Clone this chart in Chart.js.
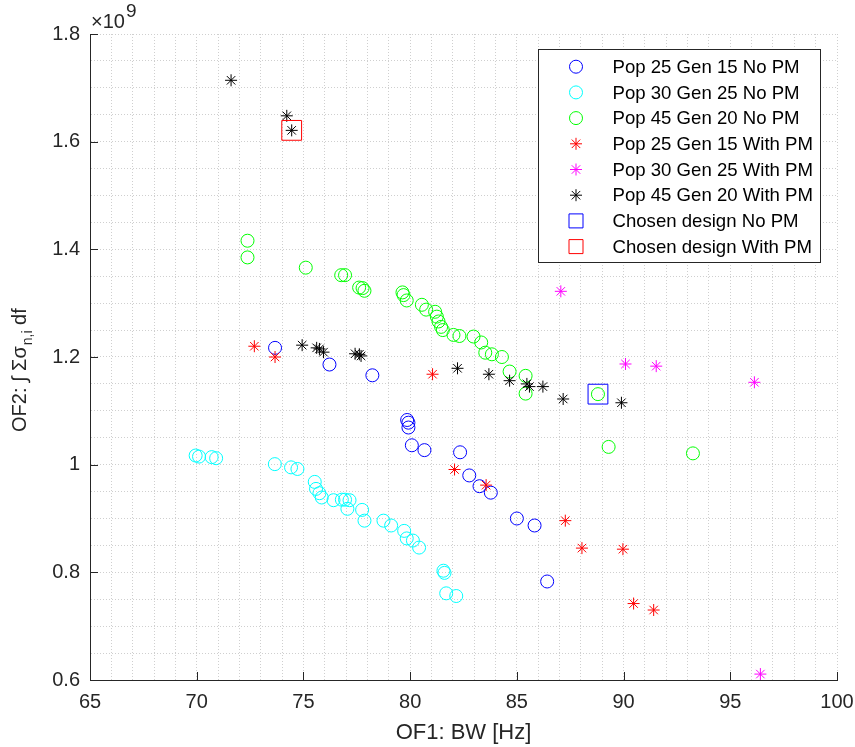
<!DOCTYPE html>
<html>
<head>
<meta charset="utf-8">
<title>OF1 vs OF2 Pareto fronts</title>
<style>
  html, body { margin: 0; padding: 0; background: #ffffff; }
  #wrap { position: relative; width: 855px; height: 747px; }
  canvas { display: block; }
</style>
<script src="https://cdn.jsdelivr.net/npm/chart.js@4.4.1/dist/chart.umd.min.js"></script>
</head>
<body>
<div id="wrap"><canvas id="chart" width="855" height="747"></canvas></div>
<script>
// OF1 = bandwidth [Hz], OF2 = integrated summed noise (values in units of 1e9)

const of1_P25G15_noPM = [73.67, 76.22, 78.23, 79.86, 79.92, 79.92, 80.08, 80.67, 82.34, 82.77, 83.25, 83.78, 85.00, 85.83, 86.42];
const of2_P25G15_noPM = [1.217, 1.186, 1.166, 1.083, 1.078, 1.069, 1.036, 1.027, 1.023, 0.980, 0.960, 0.948, 0.900, 0.887, 0.783];

const of1_P30G25_noPM = [69.95, 70.11, 70.70, 70.91, 73.66, 74.42, 74.72, 75.53, 75.59, 75.75, 75.86, 76.41, 76.80, 76.95, 77.16, 77.06, 77.75, 77.86, 78.75, 79.11, 79.72, 79.84, 80.13, 80.42, 81.56, 81.61, 81.69, 82.16];
const of2_P30G25_noPM = [1.017, 1.015, 1.014, 1.012, 1.001, 0.995, 0.992, 0.968, 0.955, 0.947, 0.939, 0.934, 0.935, 0.935, 0.934, 0.918, 0.916, 0.896, 0.896, 0.887, 0.877, 0.863, 0.859, 0.846, 0.803, 0.799, 0.761, 0.756];

const of1_P45G20_noPM = [72.38, 72.38, 75.11, 76.77, 76.95, 77.61, 77.77, 77.86, 79.64, 79.69, 79.84, 80.55, 80.75, 81.17, 81.25, 81.33, 81.45, 81.53, 82.03, 82.31, 82.97, 83.33, 83.52, 83.83, 84.30, 84.66, 85.41, 85.41, 88.80, 89.30, 93.25];
const of2_P45G20_noPM = [1.416, 1.385, 1.366, 1.352, 1.352, 1.329, 1.328, 1.323, 1.320, 1.315, 1.305, 1.297, 1.288, 1.284, 1.275, 1.266, 1.256, 1.250, 1.241, 1.239, 1.238, 1.227, 1.208, 1.205, 1.200, 1.173, 1.165, 1.132, 1.131, 1.033, 1.021];

const of1_P25G15_PM = [72.70, 73.67, 81.05, 82.08, 83.56, 87.27, 88.05, 89.97, 90.47, 91.41];
const of2_P25G15_PM = [1.220, 1.200, 1.168, 0.991, 0.962, 0.896, 0.845, 0.843, 0.742, 0.730];

const of1_P30G25_PM = [87.06, 90.09, 91.53, 96.13, 96.41];
const of2_P30G25_PM = [1.322, 1.187, 1.183, 1.153, 0.611];

const of1_P45G20_PM = [71.61, 74.22, 74.45, 74.94, 75.62, 75.75, 75.94, 77.42, 77.62, 77.70, 82.22, 83.69, 84.66, 85.47, 85.59, 86.22, 87.17, 89.90];
const of2_P45G20_PM = [1.714, 1.648, 1.621, 1.222, 1.217, 1.215, 1.209, 1.206, 1.205, 1.202, 1.179, 1.168, 1.156, 1.150, 1.145, 1.145, 1.122, 1.115];

const of1_chosen_noPM = [88.80];
const of2_chosen_noPM = [1.131];
const of1_chosen_PM = [74.45];
const of2_chosen_PM = [1.621];

const seriesLabels = [
  'Pop 25 Gen 15 No PM',
  'Pop 30 Gen 25 No PM',
  'Pop 45 Gen 20 No PM',
  'Pop 25 Gen 15 With PM',
  'Pop 30 Gen 25 With PM',
  'Pop 45 Gen 20 With PM',
  'Chosen design No PM',
  'Chosen design With PM'
];

const xTickValues = [65, 70, 75, 80, 85, 90, 95, 100];
const xTickLabels = ['65', '70', '75', '80', '85', '90', '95', '100'];
const yTickValues = [0.6, 0.8, 1.0, 1.2, 1.4, 1.6, 1.8];
const yTickLabels = ['0.6', '0.8', '1', '1.2', '1.4', '1.6', '1.8'];

const AXIS = '#262626';
const FONT = '"Liberation Sans", Arial, Helvetica, sans-serif';

const toPoints = (xs, ys) => xs.map((v, i) => ({ x: v, y: ys[i] }));

const styles = [
  { color: '#0000ff', style: 'circle', r: 6.5 },
  { color: '#00ffff', style: 'circle', r: 6.5 },
  { color: '#00ff00', style: 'circle', r: 6.5 },
  { color: '#ff0000', style: 'star', r: 6 },
  { color: '#ff00ff', style: 'star', r: 6 },
  { color: '#000000', style: 'star', r: 6 },
  { color: '#0000ff', style: 'rect', r: 14 },
  { color: '#ff0000', style: 'rect', r: 14 }
];

const seriesData = [
  toPoints(of1_P25G15_noPM, of2_P25G15_noPM),
  toPoints(of1_P30G25_noPM, of2_P30G25_noPM),
  toPoints(of1_P45G20_noPM, of2_P45G20_noPM),
  toPoints(of1_P25G15_PM, of2_P25G15_PM),
  toPoints(of1_P30G25_PM, of2_P30G25_PM),
  toPoints(of1_P45G20_PM, of2_P45G20_PM),
  toPoints(of1_chosen_noPM, of2_chosen_noPM),
  toPoints(of1_chosen_PM, of2_chosen_PM)
];

const datasets = seriesData.map((pts, i) => ({
  label: seriesLabels[i],
  data: pts,
  pointStyle: styles[i].style,
  pointRadius: styles[i].r,
  pointHoverRadius: styles[i].r,
  pointBorderWidth: 1,
  pointHoverBorderWidth: 1,
  borderColor: styles[i].color,
  backgroundColor: 'rgba(0,0,0,0)',
  showLine: false,
  order: seriesData.length - i
}));

function labelFor(v, values, labels) {
  const k = values.findIndex(t => Math.abs(t - v) < 1e-6);
  return k >= 0 ? labels[k] : '';
}

// Axis decorations: inward ticks, exponent, rotated y title and legend box
const decor = {
  id: 'decor',
  afterDraw(chart) {
    const { ctx, chartArea: a, scales: { x, y } } = chart;
    ctx.save();

    // inward major ticks on the left and bottom axes
    ctx.strokeStyle = AXIS;
    ctx.lineWidth = 1;
    ctx.beginPath();
    xTickValues.forEach(v => {
      const px = Math.round(x.getPixelForValue(v)) + 0.5;
      ctx.moveTo(px, a.bottom);
      ctx.lineTo(px, a.bottom - 8);
    });
    yTickValues.forEach(v => {
      const py = Math.round(y.getPixelForValue(v)) + 0.5;
      ctx.moveTo(a.left, py);
      ctx.lineTo(a.left + 8, py);
    });
    ctx.stroke();

    // exponent label
    ctx.fillStyle = AXIS;
    ctx.textBaseline = 'alphabetic';
    ctx.textAlign = 'left';
    ctx.font = '20px ' + FONT;
    ctx.fillText('\u00d710', a.left + 1, 28);
    const w10 = ctx.measureText('\u00d710').width;
    ctx.font = '19px ' + FONT;
    ctx.fillText('9', a.left + 1 + w10 + 1, 17);

    // y-axis title with subscript
    ctx.save();
    ctx.translate(25.5, 432);
    ctx.rotate(-Math.PI / 2);
    ctx.fillStyle = AXIS;
    ctx.font = '20px ' + FONT;
    let cx = 0;
    const part1 = 'OF2: \u222b \u03a3\u03c3';
    ctx.fillText(part1, cx, 0);
    cx += ctx.measureText(part1).width;
    ctx.font = '14px ' + FONT;
    ctx.fillText('n,i', cx + 1, 6);
    cx += ctx.measureText('n,i').width + 1;
    ctx.font = '20px ' + FONT;
    ctx.fillText(' df', cx, 0);
    ctx.restore();

    // legend
    const L = { x: 538.5, y: 49.5, w: 282, h: 213 };
    ctx.fillStyle = '#ffffff';
    ctx.fillRect(L.x, L.y, L.w, L.h);
    ctx.strokeStyle = AXIS;
    ctx.lineWidth = 1;
    ctx.strokeRect(L.x, L.y, L.w, L.h);
    ctx.font = '18.6px ' + FONT;
    ctx.textBaseline = 'middle';
    ctx.textAlign = 'left';
    seriesLabels.forEach((lab, i) => {
      const cy = 66.7 + i * 25.7;
      const mx = 576;
      const st = styles[i];
      ctx.strokeStyle = st.color;
      ctx.lineWidth = 1;
      ctx.beginPath();
      if (st.style === 'circle') {
        ctx.arc(mx, cy, 6.5, 0, Math.PI * 2);
      } else if (st.style === 'star') {
        const r = 6;
        const d = r * Math.SQRT1_2;
        ctx.moveTo(mx - r, cy); ctx.lineTo(mx + r, cy);
        ctx.moveTo(mx, cy - r); ctx.lineTo(mx, cy + r);
        ctx.moveTo(mx - d, cy - d); ctx.lineTo(mx + d, cy + d);
        ctx.moveTo(mx - d, cy + d); ctx.lineTo(mx + d, cy - d);
      } else {
        ctx.rect(mx - 7, cy - 7, 14, 14);
      }
      ctx.stroke();
      ctx.fillStyle = '#000000';
      ctx.fillText(lab, 612.5, cy + 1);
    });

    ctx.restore();
  }
};

const gridColor = '#cfcfcf';

new Chart(document.getElementById('chart'), {
  type: 'scatter',
  data: { datasets },
  plugins: [decor],
  options: {
    responsive: false,
    devicePixelRatio: 1,
    animation: false,
    events: [],
    layout: { padding: { top: 34, right: 18, left: 0, bottom: 0 } },
    plugins: {
      legend: { display: false },
      tooltip: { enabled: false }
    },
    scales: {
      x: {
        type: 'linear',
        min: 65,
        max: 100,
        afterFit: s => { s.height = 67; s.paddingLeft = 0; s.paddingRight = 0; },
        ticks: {
          stepSize: 1,
          autoSkip: false,
          maxRotation: 0,
          padding: 10,
          color: AXIS,
          font: { family: FONT, size: 20 },
          callback: v => labelFor(v, xTickValues, xTickLabels)
        },
        grid: {
          color: gridColor,
          lineWidth: 1,
          drawTicks: false
        },
        border: { display: true, color: AXIS, width: 1, dash: [1, 2] },
        title: {
          display: true,
          text: 'OF1: BW [Hz]',
          color: AXIS,
          font: { family: FONT, size: 22 },
          padding: { top: 0, bottom: 1 }
        }
      },
      y: {
        type: 'linear',
        min: 0.6,
        max: 1.8,
        afterFit: s => { s.width = 90; s.paddingTop = 0; s.paddingBottom = 0; },
        ticks: {
          stepSize: 0.05,
          autoSkip: false,
          padding: 10,
          color: AXIS,
          font: { family: FONT, size: 20 },
          callback: v => labelFor(v, yTickValues, yTickLabels)
        },
        grid: {
          color: gridColor,
          lineWidth: 1,
          drawTicks: false
        },
        border: { display: true, color: AXIS, width: 1, dash: [1, 2] }
      }
    }
  }
});
</script>
</body>
</html>
